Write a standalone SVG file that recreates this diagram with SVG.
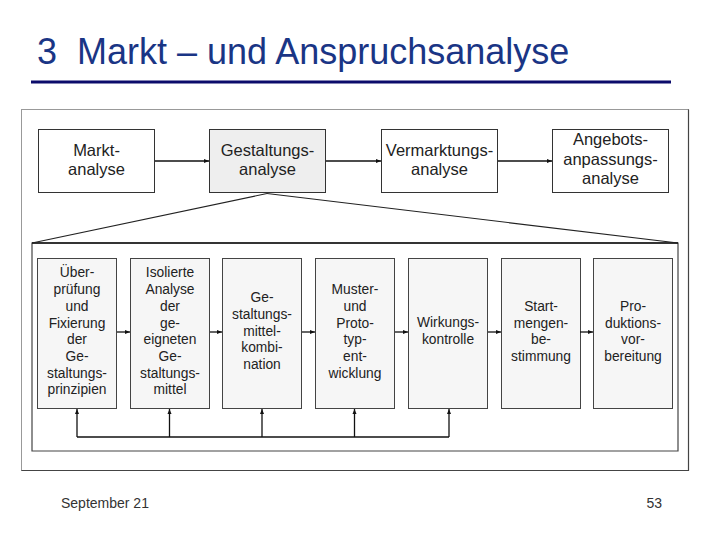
<svg xmlns="http://www.w3.org/2000/svg" width="720" height="540" viewBox="0 0 720 540">
<defs>
<marker id="ah" viewBox="0 0 10 10" refX="10" refY="5" markerWidth="5" markerHeight="5" orient="auto" markerUnits="userSpaceOnUse">
<path d="M0,1 L10,5 L0,9 Z" fill="#111"/>
</marker>
<style>
.t{font-family:"Liberation Sans",Arial,sans-serif;fill:#222;text-anchor:middle}
.big{font-size:16.5px}
.sm{font-size:13.8px}
.box{fill:#fff;stroke:#333;stroke-width:1}
.sbox{fill:#f6f6f6;stroke:#444;stroke-width:1}
.con{stroke:#111;stroke-width:1.3;fill:none}
</style>
</defs>
<rect width="720" height="540" fill="#fff"/>
<text x="37" y="63.5" font-family="'Liberation Sans',Arial,sans-serif" font-size="36" fill="#1a3585" xml:space="preserve">3  Markt – und Anspruchsanalyse</text>
<line x1="31" y1="82" x2="671" y2="82" stroke="#0b0b6b" stroke-width="3"/>
<g id="frame">
<rect x="21.5" y="109.5" width="667" height="361" fill="#fff" stroke="#999" stroke-width="1"/>
<path d="M688.5,109.5 V470.5 H21.5" fill="none" stroke="#444" stroke-width="1.2"/>
<path d="M32,243 H678 V451 H32 Z" fill="#fff" stroke="#444" stroke-width="1.2"/>
<line x1="32" y1="243" x2="678" y2="243" stroke="#111" stroke-width="1.5"/>
</g>
<g id="n-markt"><rect class="box" x="38.5" y="129.5" width="116" height="63"/>
<text class="t big" x="96.5" y="156">Markt-</text><text class="t big" x="96.5" y="174.5">analyse</text></g>
<g id="n-gestaltung"><rect class="box" x="209.5" y="129.5" width="116" height="63" style="fill:#eeeeee"/>
<text class="t big" x="267.5" y="156">Gestaltungs-</text><text class="t big" x="267.5" y="174.5">analyse</text></g>
<g id="n-vermarktung"><rect class="box" x="381.5" y="129.5" width="116" height="63"/>
<text class="t big" x="439.5" y="156">Vermarktungs-</text><text class="t big" x="439.5" y="174.5">analyse</text></g>
<g id="n-angebot"><rect class="box" x="552.5" y="129.5" width="116" height="63"/>
<text class="t big" x="610.5" y="145">Angebots-</text><text class="t big" x="610.5" y="164.5">anpassungs-</text><text class="t big" x="610.5" y="184">analyse</text></g>
<g id="s1"><rect class="sbox" x="37.5" y="258.5" width="79" height="150"/>
<text class="t sm" x="77" y="277">Über-</text><text class="t sm" x="77" y="294">prüfung</text><text class="t sm" x="77" y="311">und</text><text class="t sm" x="77" y="328">Fixierung</text><text class="t sm" x="77" y="344">der</text><text class="t sm" x="77" y="361">Ge-</text><text class="t sm" x="77" y="378">staltungs-</text><text class="t sm" x="77" y="394">prinzipien</text></g>
<g id="s2"><rect class="sbox" x="130.5" y="258.5" width="79" height="150"/>
<text class="t sm" x="170" y="277">Isolierte</text><text class="t sm" x="170" y="294">Analyse</text><text class="t sm" x="170" y="311">der</text><text class="t sm" x="170" y="328">ge-</text><text class="t sm" x="170" y="344">eigneten</text><text class="t sm" x="170" y="361">Ge-</text><text class="t sm" x="170" y="378">staltungs-</text><text class="t sm" x="170" y="394">mittel</text></g>
<g id="s3"><rect class="sbox" x="222.5" y="258.5" width="79" height="150"/>
<text class="t sm" x="262" y="302">Ge-</text><text class="t sm" x="262" y="319">staltungs-</text><text class="t sm" x="262" y="336">mittel-</text><text class="t sm" x="262" y="352">kombi-</text><text class="t sm" x="262" y="369">nation</text></g>
<g id="s4"><rect class="sbox" x="315.5" y="258.5" width="79" height="150"/>
<text class="t sm" x="355" y="294">Muster-</text><text class="t sm" x="355" y="311">und</text><text class="t sm" x="355" y="328">Proto-</text><text class="t sm" x="355" y="344">typ-</text><text class="t sm" x="355" y="361">ent-</text><text class="t sm" x="355" y="378">wicklung</text></g>
<g id="s5"><rect class="sbox" x="408.5" y="258.5" width="79" height="150"/>
<text class="t sm" x="448" y="327">Wirkungs-</text><text class="t sm" x="448" y="344">kontrolle</text></g>
<g id="s6"><rect class="sbox" x="501.5" y="258.5" width="79" height="150"/>
<text class="t sm" x="541" y="311">Start-</text><text class="t sm" x="541" y="328">mengen-</text><text class="t sm" x="541" y="344">be-</text><text class="t sm" x="541" y="361">stimmung</text></g>
<g id="s7"><rect class="sbox" x="593.5" y="258.5" width="79" height="150"/>
<text class="t sm" x="633" y="311">Pro-</text><text class="t sm" x="633" y="328">duktions-</text><text class="t sm" x="633" y="344">vor-</text><text class="t sm" x="633" y="361">bereitung</text></g>
<g id="connectors">
<line class="con" x1="155" y1="161" x2="209" y2="161" marker-end="url(#ah)"/>
<line class="con" x1="326" y1="161" x2="381" y2="161" marker-end="url(#ah)"/>
<line class="con" x1="498" y1="161" x2="552" y2="161" marker-end="url(#ah)"/>
<line x1="267" y1="193.5" x2="32" y2="243" stroke="#222" stroke-width="1.2"/>
<line x1="267" y1="193.5" x2="678" y2="243" stroke="#222" stroke-width="1.2"/>
<line class="con" x1="117" y1="332" x2="130" y2="332" marker-end="url(#ah)"/>
<line class="con" x1="210" y1="332" x2="222" y2="332" marker-end="url(#ah)"/>
<line class="con" x1="302" y1="332" x2="315" y2="332" marker-end="url(#ah)"/>
<line class="con" x1="395" y1="332" x2="408" y2="332" marker-end="url(#ah)"/>
<line class="con" x1="488" y1="332" x2="501" y2="332" marker-end="url(#ah)"/>
<line class="con" x1="580" y1="332" x2="593" y2="332" marker-end="url(#ah)"/>
<polyline class="con" points="77,437 449,437" stroke-width="1.6"/>
<line class="con" x1="77" y1="437" x2="77" y2="409" stroke-width="2" marker-end="url(#ah)"/>
<line class="con" x1="169.5" y1="437" x2="169.5" y2="409" marker-end="url(#ah)"/>
<line class="con" x1="262" y1="437" x2="262" y2="409" marker-end="url(#ah)"/>
<line class="con" x1="354.5" y1="437" x2="354.5" y2="409" marker-end="url(#ah)"/>
<line class="con" x1="449" y1="437" x2="449" y2="409" marker-end="url(#ah)"/>
</g>
<text x="61" y="508" font-family="'Liberation Sans',Arial,sans-serif" font-size="14" fill="#333">September 21</text>
<text x="662" y="508" font-family="'Liberation Sans',Arial,sans-serif" font-size="14" fill="#333" text-anchor="end">53</text>
</svg>
